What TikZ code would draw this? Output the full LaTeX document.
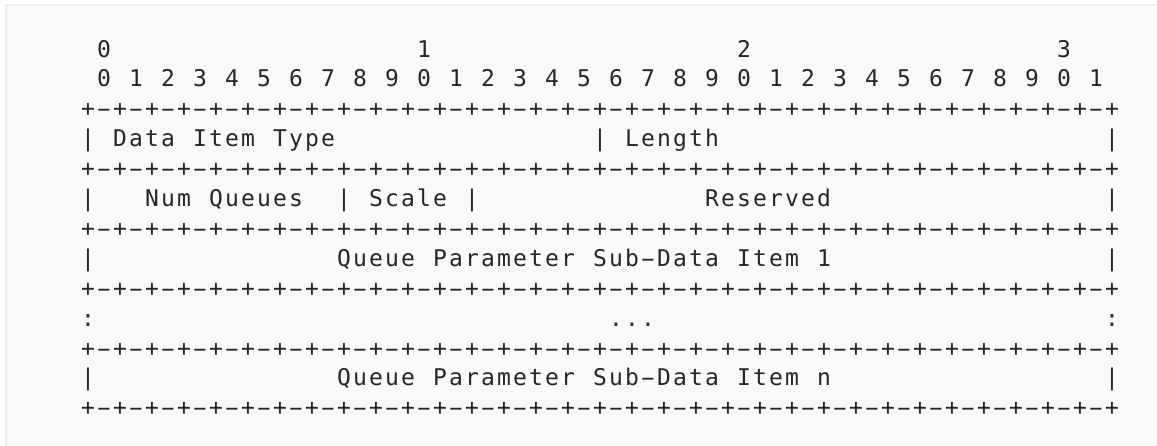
\documentclass[tikz,border=0pt]{standalone}
\usepackage{fontspec}
\newfontfamily\monof{DejaVu Sans Mono}
\definecolor{bgfill}{HTML}{F9F9F9}
\definecolor{bgline}{HTML}{EEEEEE}
\definecolor{ink}{HTML}{262626}
\ExplSyntaxOn
\NewDocumentCommand\gridtext{m}{
  \str_map_inline:nn {#1}
    {\str_if_eq:nnTF {##1}{-}
       {\makebox[16pt][c]{\scalebox{1.9}[1]{-}}}
       {\makebox[16pt][c]{##1}}}}
\ExplSyntaxOff
\tikzset{
  cell/.style={inner sep=0pt, outer sep=0pt, anchor=base west, text=ink,
    font=\monof\fontsize{23pt}{26pt}\selectfont},
}
\begin{document}
\begin{tikzpicture}[x=1pt,y=-1pt]
\useasboundingbox (0,0) rectangle (1157,445);
\clip (0,0) rectangle (1157,445);
\draw[bgline, fill=bgfill, line width=1.2pt] (6,5) rectangle (1180,470);
% column c left edge = 80 + 16c ; row n baseline = 57 + 29.9n
% row 0
\node[cell] (h0) at ({80+16*1},57) {\gridtext{0}};
\node[cell] (h1) at ({80+16*21},57) {\gridtext{1}};
\node[cell] (h2) at ({80+16*41},57) {\gridtext{2}};
\node[cell] (h3) at ({80+16*61},57) {\gridtext{3}};
% row 1
\node[cell] (bits) at ({80+16*1},{57+29.9*1}) {\gridtext{0 1 2 3 4 5 6 7 8 9 0 1 2 3 4 5 6 7 8 9 0 1 2 3 4 5 6 7 8 9 0 1}};
% separator rows
\foreach \r/\nm in {2/sa,4/sb,6/sc,8/sd,10/se,12/sf}{
  \node[cell] (\nm) at (80,{57+29.9*\r}) {\gridtext{+-+-+-+-+-+-+-+-+-+-+-+-+-+-+-+-+-+-+-+-+-+-+-+-+-+-+-+-+-+-+-+-+}};
}
% row 3
\node[cell] (r3a) at (80,{57+29.9*3}) {\gridtext{| Data Item Type}};
\node[cell] (r3b) at ({80+16*32},{57+29.9*3}) {\gridtext{| Length}};
\node[cell] (r3c) at ({80+16*64},{57+29.9*3}) {\gridtext{|}};
% row 5
\node[cell] (r5a) at (80,{57+29.9*5}) {\gridtext{|}};
\node[cell] (r5b) at ({80+16*4},{57+29.9*5}) {\gridtext{Num Queues}};
\node[cell] (r5c) at ({80+16*16},{57+29.9*5}) {\gridtext{| Scale |}};
\node[cell] (r5d) at ({80+16*39},{57+29.9*5}) {\gridtext{Reserved}};
\node[cell] (r5e) at ({80+16*64},{57+29.9*5}) {\gridtext{|}};
% row 7
\node[cell] (r7a) at (80,{57+29.9*7}) {\gridtext{|}};
\node[cell] (r7b) at ({80+16*16},{57+29.9*7}) {\gridtext{Queue Parameter Sub-Data Item 1}};
\node[cell] (r7c) at ({80+16*64},{57+29.9*7}) {\gridtext{|}};
% row 9
\node[cell] (r9a) at (80,{57+29.9*9}) {\gridtext{:}};
\node[cell] (r9b) at ({80+16*33},{57+29.9*9}) {\gridtext{...}};
\node[cell] (r9c) at ({80+16*64},{57+29.9*9}) {\gridtext{:}};
% row 11
\node[cell] (r11a) at (80,{57+29.9*11}) {\gridtext{|}};
\node[cell] (r11b) at ({80+16*16},{57+29.9*11}) {\gridtext{Queue Parameter Sub-Data Item n}};
\node[cell] (r11c) at ({80+16*64},{57+29.9*11}) {\gridtext{|}};
\end{tikzpicture}
\end{document}
